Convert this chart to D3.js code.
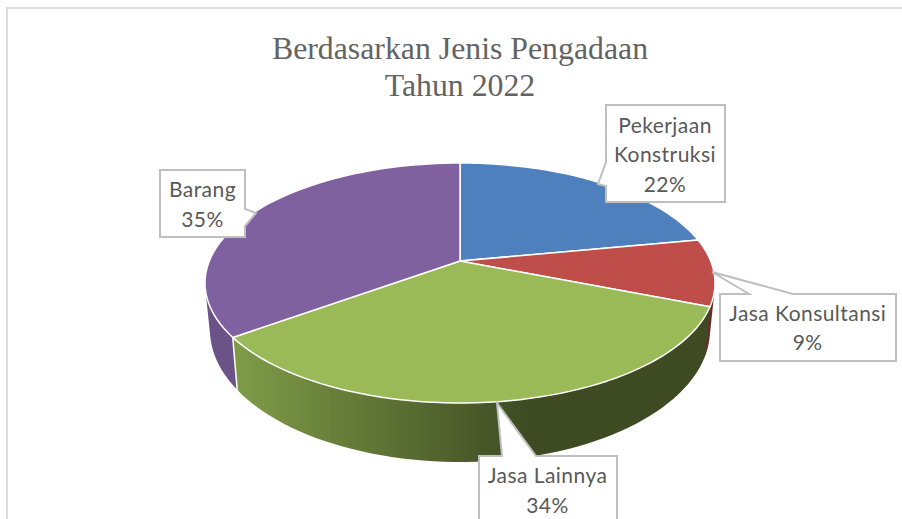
<!DOCTYPE html>
<html><head><meta charset="utf-8">
<script src="https://cdn.jsdelivr.net/npm/d3@7/dist/d3.min.js"></script>
<style>html,body{margin:0;padding:0;background:#fff}svg{display:block}</style>
</head><body><svg id="c" width="902" height="519"></svg>
<script>
const categories = ["Pekerjaan Konstruksi", "Jasa Konsultansi", "Jasa Lainnya", "Barang"];
const values = [22, 9, 34, 35];
const colors = ["#4d80bc", "#bf4e4a", "#9aba58", "#7f61a0"];
const sideColors = ["#2a4668", "#6a2b29", "#566832", "#6b5287"];
const titleLines = ["Berdasarkan Jenis Pengadaan", "Tahun 2022"];
const labelLines = [["Pekerjaan", "Konstruksi", "22%"], ["Jasa Konsultansi", "9%"], ["Jasa Lainnya", "34%"], ["Barang", "35%"]];

const svg = d3.select("#c");
const defs = svg.append("defs");
const grad = defs.append("linearGradient").attr("id","gs").attr("gradientUnits","userSpaceOnUse")
  .attr("x1",231).attr("x2",530).attr("y1",0).attr("y2",0);
grad.append("stop").attr("offset",0).attr("stop-color","#7f9d48");
grad.append("stop").attr("offset",1).attr("stop-color","#3e4a22");

// Frame: only the top and left edges are visible
svg.append("path").attr("d","M7,519V8H902").attr("fill","none").attr("stroke","#dcdcdc").attr("stroke-width",2);

// Title
svg.append("g").selectAll("text").data(titleLines).join("text")
  .attr("x",460).attr("y",(d,i)=>59+i*37).attr("text-anchor","middle")
  .attr("font-family","'Liberation Serif'").attr("font-size",31.8).attr("fill","#636363").text(d=>d);

// Perspective pie: a circle on a tilted plane, projected to ellipses
const k = -0.183, q = Math.sqrt(1-k*k);
const top_ = {cy:283, rx:255, ry:120}, bot = {cy:330, rx:250, ry:132};
function proj(a, r, e){ // a: clockwise from 12 o'clock, r in 0..1
  const u = r*Math.sin(a), v = -r*Math.cos(a), w = 1+k*v;
  return [460 + e.rx*u*q/w, e.cy + e.ry*(v+k)/w];
}
const arcs = d3.pie().sort(null).value(d=>d)(values);
const samples = (a0,a1)=>d3.range(0,61).map(i=>a0+(a1-a0)*i/60);
const line = d3.line();

// Side walls: the hull of each wedge's upper and lower rim gives the straight tangent silhouette
const drawOrder = [3,0,1,2];
const gSide = svg.append("g");
drawOrder.forEach(i=>{
  const d = arcs[i], as = samples(d.startAngle,d.endAngle);
  const upper = as.map(a=>proj(a,1,top_)), lower = as.map(a=>proj(a,1,bot));
  if(i===2){
    gSide.append("path").attr("d",line(upper.concat(lower.slice().reverse()))+"Z").attr("fill","url(#gs)");
    const a=d.endAngle;
    gSide.append("path").attr("d",line([proj(a,1,top_),proj(a,1,bot)])).attr("stroke","#fff").attr("stroke-width",1.5).attr("fill","none");
  } else {
    gSide.append("path").attr("d",line(d3.polygonHull(upper.concat(lower)))+"Z").attr("fill",sideColors[i]);
  }
});

// Top face
svg.append("g").selectAll("path").data(arcs).join("path")
  .attr("d",d=>line([proj(0,0,top_)].concat(samples(d.startAngle,d.endAngle).map(a=>proj(a,1,top_))))+"Z")
  .attr("fill",(d,i)=>colors[i]).attr("stroke","#fff").attr("stroke-width",1.5).attr("stroke-linejoin","round");

// Callouts
const callouts = [
  {box:[606,105,725,202], side:"l", p:[[606,186],[598,184],[606,162]]},
  {box:[720,294,896,361], side:"t", p:[[749,294],[712,272],[793,294]]},
  {box:[479,456,617,530], side:"t", p:[[502,456],[497,403],[536,456]]},
  {box:[160,170,245,237], side:"r", p:[[245,209],[256,213],[245,226]]}
];
const textPos = [[[665,133],[665,162],[665,192]],[[807.7,321],[807.7,350]],[[547.5,483],[547.5,513]],[[202.5,197],[202.5,227]]];
const gC = svg.append("g");
callouts.forEach((c,i)=>{
  const [x0,y0,x1,y1]=c.box, P=c.p.map(p=>p.join(",")).join("L");
  let d;
  if(c.side==="l") d=`M${x0},${y0}H${x1}V${y1}H${x0}L${P}Z`;
  if(c.side==="t") d=`M${x0},${y0}L${P}H${x1}V${y1}H${x0}Z`;
  if(c.side==="r") d=`M${x0},${y0}H${x1}L${P}V${y1}H${x0}Z`;
  gC.append("path").attr("d",d).attr("fill","#fff").attr("stroke","#bfbfbf").attr("stroke-width",2);
  gC.append("g").selectAll("text").data(labelLines[i]).join("text")
    .attr("x",(d,j)=>textPos[i][j][0]).attr("y",(d,j)=>textPos[i][j][1]).attr("text-anchor","middle")
    .attr("font-family","Lato").attr("font-size",21).attr("letter-spacing",0.45).attr("fill","#595959").text(d=>d);
});
</script></body></html>
